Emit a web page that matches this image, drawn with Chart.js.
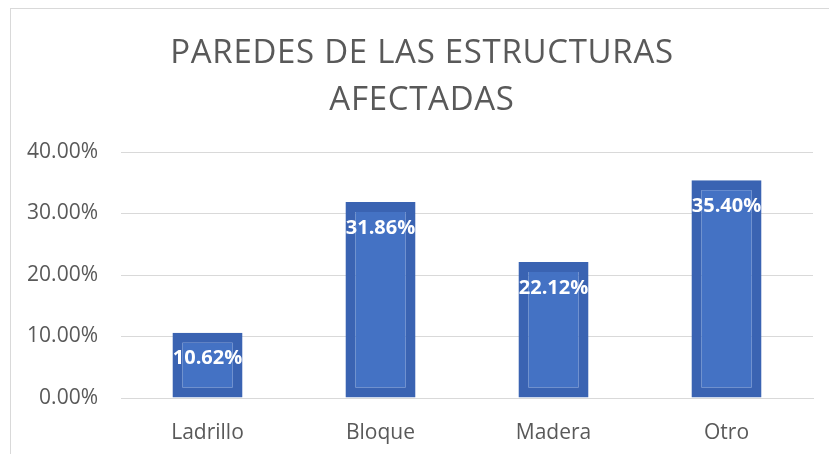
<!DOCTYPE html>
<html>
<head>
<meta charset="utf-8">
<script src="https://cdn.jsdelivr.net/npm/chart.js@4/dist/chart.umd.min.js"></script>
<style>
    body { margin: 0; background: #fff; }
    #wrap { position: relative; width: 829px; height: 454px; overflow: hidden; }
    #frame { position: absolute; left: 10px; top: 8px; width: 840px; height: 460px; border: 1px solid #d9d9d9; }
    #chart { position: absolute; left: 0; top: 0; }
</style>
</head>
<body>
<div id="wrap">
    <div id="frame"></div>
    <canvas id="chart" width="829" height="454"></canvas>
</div>
<script>
// Chart data
const categories = ['Ladrillo', 'Bloque', 'Madera', 'Otro'];
const values = [10.62, 31.86, 22.12, 35.40];
const titleLines = ['PAREDES DE LAS ESTRUCTURAS', 'AFECTADAS'];
const yMax = 40;
const yStep = 10;

const FONT = "'Open Sans', 'Liberation Sans', sans-serif";
const GREY = '#595959';

// Title drawn by hand so it can be spaced out like the original
const chartTitle = {
    id: 'chartTitle',
    afterDraw(chart) {
        const ctx = chart.ctx;
        ctx.save();
        ctx.fillStyle = GREY;
        ctx.font = '33px ' + FONT;
        ctx.letterSpacing = '0.7px';
        ctx.textAlign = 'center';
        ctx.textBaseline = 'alphabetic';
        titleLines.forEach((line, i) => {
            ctx.fillText(line, 422, 63 + i * 47);
        });
        ctx.restore();
    }
};

// Draw value labels inside the top of each bar
const barLabels = {
    id: 'barLabels',
    afterDatasetsDraw(chart) {
        const ctx = chart.ctx;
        const meta = chart.getDatasetMeta(0);
        ctx.save();
        ctx.fillStyle = '#ffffff';
        ctx.font = 'bold 20px ' + FONT;
        ctx.textAlign = 'center';
        ctx.textBaseline = 'middle';
        meta.data.forEach((bar, i) => {
            ctx.fillText(values[i].toFixed(2) + '%', bar.x, bar.y + 26);
        });
        ctx.restore();
    }
};

function initChart() {
    const ctx = document.getElementById('chart').getContext('2d');
    new Chart(ctx, {
        type: 'bar',
        data: {
            labels: categories,
            datasets: [{
                data: values,
                backgroundColor: '#4472C4',
                borderColor: '#3A63B2',
                borderWidth: 10,
                borderSkipped: false,
                categoryPercentage: 1,
                barPercentage: 0.405
            }]
        },
        options: {
            responsive: false,
            animation: false,
            layout: { padding: { top: 152, right: 16, bottom: 0, left: 0 } },
            plugins: {
                legend: { display: false },
                tooltip: { enabled: false },
                title: { display: false }
            },
            scales: {
                x: {
                    grid: { display: false },
                    border: { color: '#d9d9d9' },
                    ticks: { color: GREY, font: { family: FONT, size: 21 }, padding: 14 },
                    afterFit(scale) { scale.height = 56; }
                },
                y: {
                    min: 0,
                    max: yMax,
                    border: { display: false },
                    grid: { color: '#d9d9d9', drawTicks: false },
                    ticks: {
                        stepSize: yStep,
                        color: GREY,
                        font: { family: FONT, size: 21 },
                        padding: 23,
                        callback: v => v.toFixed(2) + '%'
                    },
                    afterFit(scale) { scale.width = 121; }
                }
            }
        },
        plugins: [barLabels, chartTitle]
    });
}

document.addEventListener('DOMContentLoaded', initChart);
</script>
</body>
</html>
